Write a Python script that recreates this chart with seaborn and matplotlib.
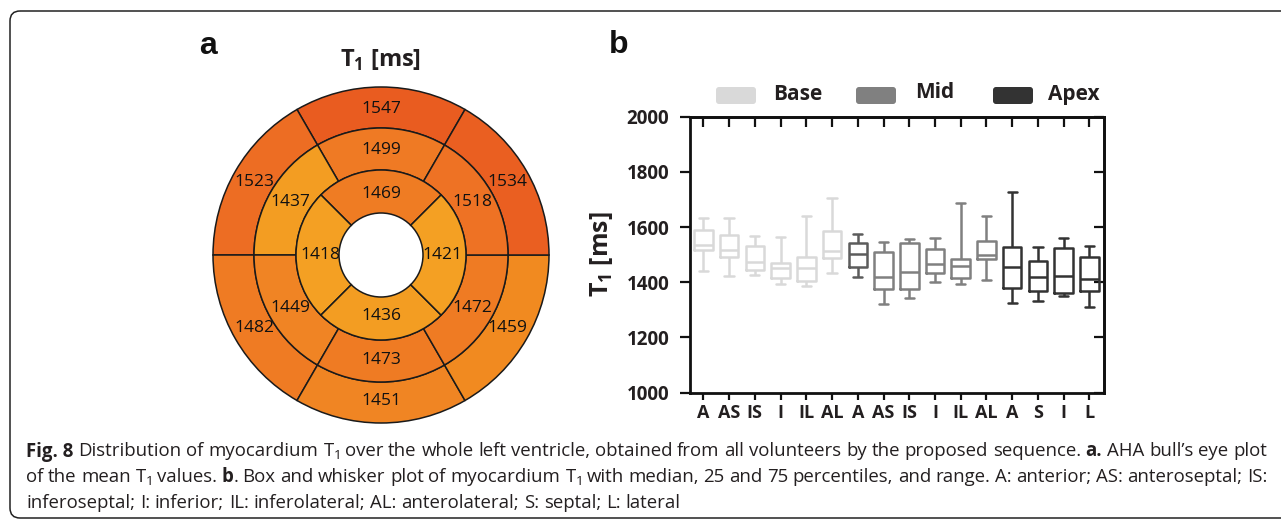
import numpy as np
import pandas as pd
import matplotlib
matplotlib.use("Agg")
import matplotlib.pyplot as plt
import seaborn as sns
from matplotlib.patches import Wedge, FancyBboxPatch
from matplotlib.colors import LinearSegmentedColormap, Normalize

# ---------------- data: panel a (AHA bull's eye, mean T1 in ms) ----------------
basal_segments = ["A", "AS", "IS", "I", "IL", "AL"]
basal_values = [1547, 1523, 1482, 1451, 1459, 1534]
mid_segments = ["A", "AS", "IS", "I", "IL", "AL"]
mid_values = [1499, 1437, 1449, 1473, 1472, 1518]
apical_segments = ["A", "S", "I", "L"]
apical_values = [1469, 1418, 1436, 1421]

# ---------------- data: panel b (box plot statistics, ms) ----------------
levels = ["Base"] * 6 + ["Mid"] * 6 + ["Apex"] * 4
segments = ["A", "AS", "IS", "I", "IL", "AL",
            "A", "AS", "IS", "I", "IL", "AL",
            "A", "S", "I", "L"]
t1_min = [1441, 1422, 1425, 1394, 1386, 1432,
          1420, 1320, 1341, 1399, 1393, 1408,
          1323, 1332, 1349, 1311]
t1_q1 = [1516, 1490, 1444, 1416, 1405, 1486,
         1454, 1377, 1377, 1432, 1414, 1483,
         1380, 1369, 1361, 1369]
t1_median = [1535, 1516, 1474, 1450, 1450, 1514,
             1502, 1417, 1438, 1466, 1459, 1497,
             1456, 1417, 1422, 1411]
t1_q3 = [1591, 1571, 1531, 1468, 1492, 1585,
         1543, 1510, 1541, 1520, 1485, 1551,
         1528, 1478, 1524, 1492]
t1_max = [1631, 1631, 1567, 1565, 1640, 1704,
          1573, 1547, 1555, 1561, 1686, 1640,
          1727, 1528, 1559, 1531]
y_ticks = [1000, 1200, 1400, 1600, 1800, 2000]
legend_levels = ["Base", "Mid", "Apex"]

# ---------------- style ----------------
sns.set_style("white")
plt.rcParams["font.family"] = ["Open Sans", "DejaVu Sans"]
plt.rcParams["mathtext.fontset"] = "dejavusans"

level_colors = {"Base": "#d9d9d9", "Mid": "#808080", "Apex": "#333333"}
box_colors = [level_colors[l] for l in levels]
box_colors[6] = "#5c5c5c"  # mid anterior box drawn darker in the original
ink = "#231f20"

W, H = 1281, 521
fig = plt.figure(figsize=(W / 100, H / 100), dpi=100)

# overlay axes in pixel coordinates (for caption, frame, panel letters, legend)
bg = fig.add_axes([0, 0, 1, 1], zorder=10)
bg.set_xlim(0, W)
bg.set_ylim(H, 0)
bg.axis("off")

# ---------------- panel a: bull's eye ----------------
cx, cy = 381, 255
axa = fig.add_axes([(cx - 200) / W, 1 - (cy + 200) / H, 400 / W, 400 / H])
axa.set_xlim(-200, 200)
axa.set_ylim(-200, 200)
axa.axis("off")

anchors = [(1418, "#F4A023"), (1437, "#F39D22"), (1449, "#F08424"),
           (1459, "#F18A20"), (1470, "#EF7B23"), (1500, "#EF7A24"),
           (1520, "#EE7124"), (1534, "#EA5F21"), (1547, "#E95C20")]
vmin, vmax = anchors[0][0], anchors[-1][0]
cmap = LinearSegmentedColormap.from_list(
    "t1", [((v - vmin) / (vmax - vmin), c) for v, c in anchors])
norm = Normalize(vmin, vmax)

radii = [42, 85, 127, 168]
six_centers = [90, 150, 210, 270, 330, 30]
four_centers = [90, 180, 270, 0]
rings = [
    (basal_values, six_centers, 30, radii[2], radii[3], 146),
    (mid_values, six_centers, 30, radii[1], radii[2], 105),
    (apical_values, four_centers, 45, radii[0], radii[1], 61),
]
for vals, centers, half, r_in, r_out, r_lab in rings:
    for v, c in zip(vals, centers):
        axa.add_patch(Wedge((0, 0), r_out, c - half, c + half, width=r_out - r_in,
                            facecolor=cmap(norm(v)), edgecolor="#1a1a1a", linewidth=1.1))
        a = np.deg2rad(c)
        axa.text(r_lab * np.cos(a), r_lab * np.sin(a), f"{v}", ha="center", va="center",
                 fontsize=12.5, color="#111111")
axa.text(0, 195, r"T$_\mathregular{1}$ [ms]", ha="center", va="center",
         fontsize=17, weight="bold", color=ink)

# ---------------- panel b: box plot ----------------
ax = fig.add_axes([690 / W, 1 - 392.5 / H, (1104.3 - 690) / W, (392.5 - 116.7) / H])
ax.set_facecolor("none")
keys = [f"{l} {s}" for l, s in zip(levels, segments)]
rows = []
for k, lo, q1, md, q3, hi in zip(keys, t1_min, t1_q1, t1_median, t1_q3, t1_max):
    for v in (lo, q1, md, q3, hi):
        rows.append({"box": k, "T1": v})
df = pd.DataFrame(rows)

sns.boxplot(data=df, x="box", y="T1", hue="box", order=keys, hue_order=keys,
            palette=box_colors, fill=False, width=0.72, linewidth=1.8,
            whis=(0, 100), showfliers=False, dodge=False, legend=False, ax=ax)

ax.set_xlim(-0.52, len(keys) - 1 + 0.58)
ax.set_ylim(y_ticks[0], y_ticks[-1])
ax.set_yticks(y_ticks)
ax.set_xticks(range(len(keys)))
ax.set_xticklabels(segments)
ax.set_xlabel("")
ax.set_ylabel(r"T$_\mathregular{1}$ [ms]", fontsize=18, weight="bold", color=ink, labelpad=8)
for sp in ax.spines.values():
    sp.set_visible(True)
    sp.set_linewidth(2.0)
    sp.set_color("#111111")
ax.tick_params(axis="y", direction="out", length=7, width=1.6, color="#111111",
               labelsize=13.5, labelcolor=ink, pad=8, left=True)
ax.tick_params(axis="x", direction="out", length=5, width=1.6, color="#111111",
               labelsize=13, labelcolor=ink, pad=3, bottom=True)
for lab in ax.get_xticklabels() + ax.get_yticklabels():
    lab.set_fontweight("bold")

secx = ax.secondary_xaxis("top")
secx.set_xticks(range(len(keys)))
secx.tick_params(direction="in", length=7, width=1.6, color="#111111", labeltop=False)
secx.spines["top"].set_linewidth(2.0)
secy = ax.secondary_yaxis("right")
secy.set_yticks(y_ticks)
secy.tick_params(direction="in", length=7, width=1.6, color="#111111", labelright=False)
secy.spines["right"].set_linewidth(2.0)

# legend (rounded swatches above the plot)
leg_x = [716, 856, 993]
text_x = [773, 915, 1048]
text_y = [94.5, 93, 94.5]
for lvl, px, tx, ty in zip(legend_levels, leg_x, text_x, text_y):
    bg.add_patch(FancyBboxPatch((px, 87), 40, 17,
                                boxstyle="round,pad=0,rounding_size=3",
                                facecolor=level_colors[lvl], edgecolor="none"))
    bg.text(tx, ty, lvl, ha="left", va="center", fontsize=15, weight="bold", color=ink)

# panel letters
bg.text(208, 46, "a", ha="center", va="center", fontsize=23, weight="bold",
        family=["Liberation Sans", "DejaVu Sans"], color="#111111")
bg.text(619, 45, "b", ha="center", va="center", fontsize=23, weight="bold",
        family=["Liberation Sans", "DejaVu Sans"], color="#111111")

# frame
bg.add_patch(FancyBboxPatch((10, 11), 1300, 507, boxstyle="round,pad=0,rounding_size=10",
                            facecolor="none", edgecolor="#222222", linewidth=1.1,
                            clip_on=False))

# ---------------- caption (justified) ----------------
renderer = fig.canvas.get_renderer()
cap_color = "#231f20"
T1 = r"T$_\mathregular{1}$"


def words(s):
    return [[(w, "normal")] for w in s.split(" ")]


line1 = ([[("Fig. 8", "bold")]]
         + words(f"Distribution of myocardium {T1} over the whole left ventricle, obtained "
                 "from all volunteers by the proposed sequence.")
         + [[("a.", "bold")]] + words("AHA bull\u2019s eye plot"))
line2 = (words(f"of the mean {T1} values.") + [[("b", "bold"), (".", "normal")]]
         + words(f"Box and whisker plot of myocardium {T1} with median, 25 and 75 "
                 "percentiles, and range. A: anterior; AS: anteroseptal; IS:"))
line3 = words("inferoseptal; I: inferior; IL: inferolateral; AL: anterolateral; "
              "S: septal; L: lateral")


def seg_width(s, weight, fs):
    t = bg.text(0, 0, s, fontsize=fs, weight=weight)
    w = t.get_window_extent(renderer).width
    t.remove()
    return w


x0, x1 = 26, 1267
# choose the caption size so the first line fills the column with natural spacing
ref_fs = 12
nat = (sum(seg_width(s, wt, ref_fs) for w in line1 for s, wt in w)
       + (len(line1) - 1) * (seg_width("a a", "normal", ref_fs) - seg_width("aa", "normal", ref_fs)))
cap_fs = ref_fs * (x1 - x0) / nat
space_w = seg_width("a a", "normal", cap_fs) - seg_width("aa", "normal", cap_fs)

for line, base, justify in [(line1, 456.5, True), (line2, 482.5, True), (line3, 508.5, False)]:
    widths = [[seg_width(s, wt, cap_fs) for s, wt in w] for w in line]
    total = sum(sum(ws) for ws in widths)
    gap = (x1 - x0 - total) / (len(line) - 1) if justify else space_w
    x = x0
    for w, ws in zip(line, widths):
        for (s, wt), sw in zip(w, ws):
            bg.text(x, base, s, fontsize=cap_fs, weight=wt, color=cap_color,
                    ha="left", va="baseline")
            x += sw
        x += gap

fig.savefig("out.png", dpi=100)
